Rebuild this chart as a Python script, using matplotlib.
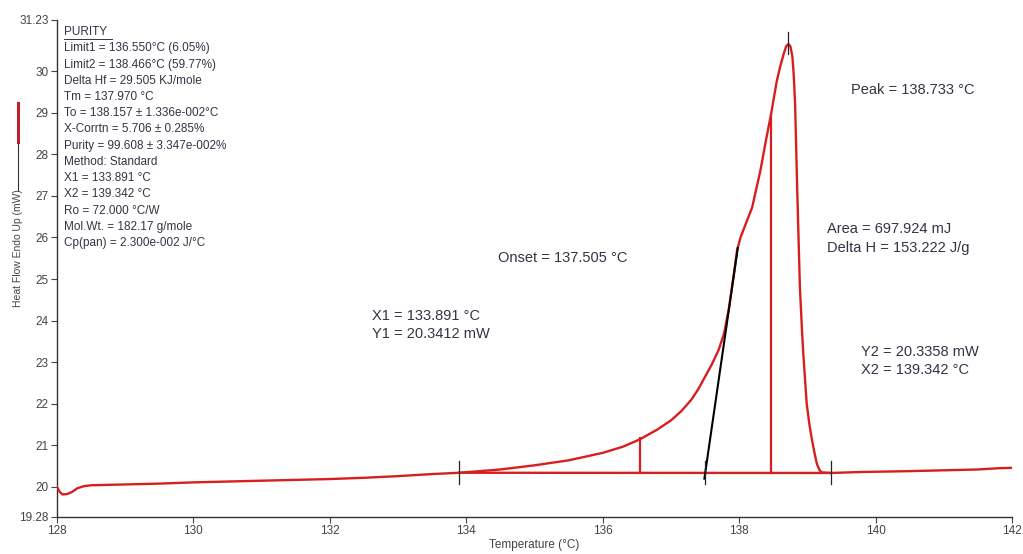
import numpy as np
import matplotlib.pyplot as plt
from matplotlib.lines import Line2D

plt.rcParams['font.family'] = ['Liberation Sans', 'DejaVu Sans']

# curva DSC
temp = [128.0, 128.04, 128.08, 128.15, 128.22, 128.3, 128.4, 128.5, 129.0, 129.5,
        130.0, 130.5, 131.0, 131.5, 132.0, 132.5, 133.0, 133.5, 133.891,
        134.5, 135.0, 135.5, 136.0, 136.3, 136.55, 136.8, 137.0, 137.15, 137.3,
        137.4, 137.5, 137.6, 137.7, 137.78, 137.85, 137.92, 137.97, 138.02,
        138.09, 138.19, 138.31, 138.4, 138.466, 138.55, 138.6, 138.65, 138.69,
        138.72, 138.75, 138.78, 138.8, 138.82, 138.85, 138.89, 138.92, 138.94,
        138.99, 139.03, 139.06, 139.1, 139.14, 139.18, 139.21, 139.342,
        139.8, 140.5, 141.0, 141.5, 141.8, 142.0]
flujo = [20.0, 19.88, 19.82, 19.83, 19.88, 19.97, 20.02, 20.04, 20.06, 20.08,
         20.11, 20.13, 20.15, 20.17, 20.19, 20.22, 20.26, 20.31, 20.34,
         20.42, 20.52, 20.64, 20.82, 20.97, 21.15, 21.38, 21.6, 21.82, 22.1,
         22.35, 22.65, 22.95, 23.3, 23.7, 24.3, 25.1, 25.7, 26.0,
         26.3, 26.72, 27.6, 28.4, 28.95, 29.75, 30.1, 30.4, 30.6,
         30.65, 30.6, 30.35, 29.9, 29.2, 27.2, 24.8, 23.8, 23.2,
         22.0, 21.5, 21.2, 20.85, 20.55, 20.4, 20.35, 20.336,
         20.36, 20.38, 20.4, 20.42, 20.45, 20.46]

x1, y1 = 133.891, 20.3412
x2, y2 = 139.342, 20.3358
onset = 137.505
limit1, limit1_y = 136.550, 21.17
limit2, limit2_y = 138.466, 28.95
peak, peak_y = 138.72, 30.65
tang_x = [137.49, 137.98]
tang_y = [20.2, 25.75]

purity_lines = [
    'Limit1 = 136.550°C (6.05%)',
    'Limit2 = 138.466°C (59.77%)',
    'Delta Hf = 29.505 KJ/mole',
    'Tm = 137.970 °C',
    'To = 138.157 ± 1.336e-002°C',
    'X-Corrtn = 5.706 ± 0.285%',
    'Purity = 99.608 ± 3.347e-002%',
    'Method: Standard',
    'X1 = 133.891 °C',
    'X2 = 139.342 °C',
    'Ro = 72.000 °C/W',
    'Mol.Wt. = 182.17 g/mole',
    'Cp(pan) = 2.300e-002 J/°C',
]

rojo = '#d81e1e'
texto = '#333344'

fig = plt.figure(figsize=(10.23, 5.54), dpi=100)
ax = fig.add_axes([0.0557, 0.067, 0.9336, 0.897])

ax.plot(temp, flujo, color=rojo, lw=1.7, zorder=3)
ax.plot([x1, x2], [y1, y2], color=rojo, lw=1.7, zorder=3)
ax.plot([limit1, limit1], [y1, limit1_y], color=rojo, lw=1.6)
ax.plot([limit2, limit2], [y1, limit2_y], color=rojo, lw=1.6)
ax.plot(tang_x, tang_y, color='black', lw=1.5, zorder=4)

# marcas verticales
for xm in [x1, onset, x2]:
    ax.plot([xm, xm], [y1 - 0.28, y1 + 0.28], color='#222222', lw=0.9, zorder=5)
ax.plot([peak, peak], [peak_y - 0.25, peak_y + 0.3], color='#222222', lw=0.9, zorder=5)

ax.set_xlim(128, 142)
ax.set_ylim(19.28, 31.23)
ax.set_xticks([128, 130, 132, 134, 136, 138, 140, 142])
ax.set_yticks([19.28, 20, 21, 22, 23, 24, 25, 26, 27, 28, 29, 30, 31.23])
ax.set_yticklabels(['19.28', '20', '21', '22', '23', '24', '25', '26', '27', '28', '29', '30', '31.23'])
ax.tick_params(labelsize=8.5, colors='#444444', length=4, width=0.8, pad=2)
for s in ['top', 'right']:
    ax.spines[s].set_visible(False)
for s in ['left', 'bottom']:
    ax.spines[s].set_color('#333333')
    ax.spines[s].set_linewidth(1.0)

ax.set_xlabel('Temperature (°C)', fontsize=8.5, color='#444444', labelpad=1)

# etiqueta eje y con su linea
fig.text(0.0176, 1 - 248 / 554, 'Heat Flow Endo Up (mW)', rotation=90, ha='center', va='center',
         fontsize=7.5, color='#444444')
fig.add_artist(Line2D([0.0176, 0.0176], [1 - 142 / 554, 1 - 103 / 554], color='#c0202a', lw=2.2))
fig.add_artist(Line2D([0.0176, 0.0176], [1 - 190 / 554, 1 - 143 / 554], color='#333333', lw=0.8))

# bloque de pureza
fig.text(0.0626, 1 - 32 / 554, 'PURITY', fontsize=8.5, color=texto, va='center')
fig.add_artist(Line2D([0.0626, 0.0626 + 48 / 1023], [1 - 38.5 / 554, 1 - 38.5 / 554], color=texto, lw=0.7))
for i, t in enumerate(purity_lines):
    fig.text(0.0626, 1 - (48.5 + i * 16.2) / 554, t, fontsize=8.5, color=texto, va='center')

# anotaciones
kw = dict(fontsize=10.5, color=texto, va='center')
fig.text(851 / 1023, 1 - 90 / 554, 'Peak = 138.733 °C', **kw)
fig.text(827 / 1023, 1 - 229 / 554, 'Area = 697.924 mJ', **kw)
fig.text(827 / 1023, 1 - 248 / 554, 'Delta H = 153.222 J/g', **kw)
fig.text(498 / 1023, 1 - 258 / 554, 'Onset = 137.505 °C', **kw)
fig.text(372 / 1023, 1 - 316 / 554, 'X1 = 133.891 °C', **kw)
fig.text(372 / 1023, 1 - 334 / 554, 'Y1 = 20.3412 mW', **kw)
fig.text(861 / 1023, 1 - 352 / 554, 'Y2 = 20.3358 mW', **kw)
fig.text(861 / 1023, 1 - 370 / 554, 'X2 = 139.342 °C', **kw)

fig.savefig('out.png', dpi=100)
